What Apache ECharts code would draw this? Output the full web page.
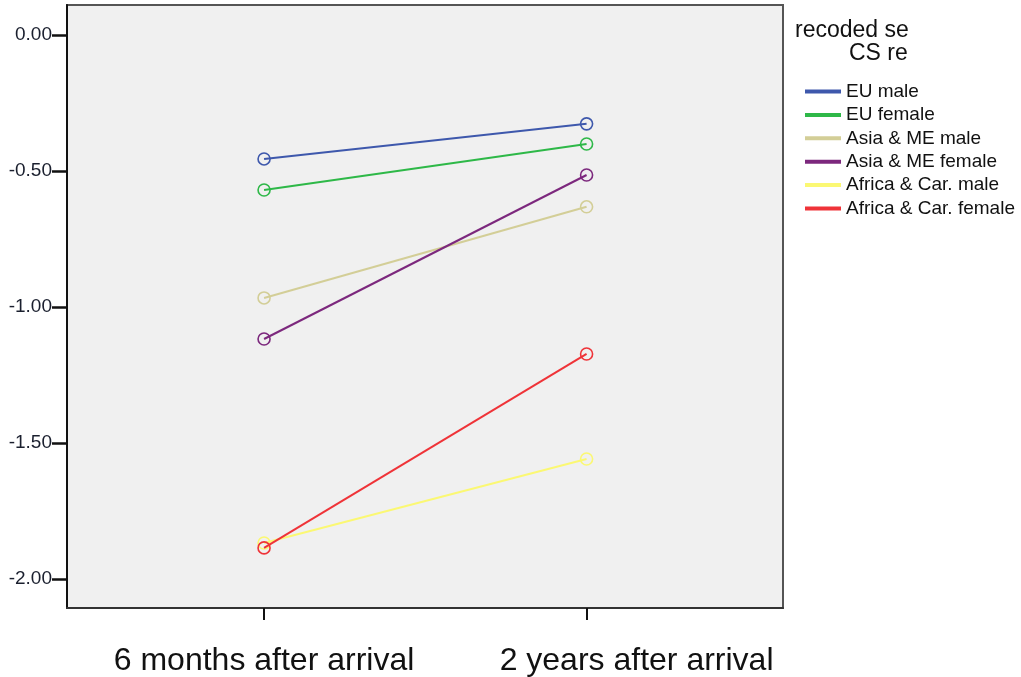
<!DOCTYPE html>
<html><head><meta charset="utf-8">
<script src="https://cdn.jsdelivr.net/npm/echarts@6/dist/echarts.min.js"></script>
<style>html,body{margin:0;padding:0;background:#fff}#c{width:1021px;height:677px}</style>
</head><body><div id="c"></div>
<script>
const categories = ['6 months after arrival', '2 years after arrival'];
const seriesNames = ['EU male', 'EU female', 'Asia & ME male', 'Asia & ME female', 'Africa & Car. male', 'Africa & Car. female'];
const euMale = [-0.456, -0.327];
const euFemale = [-0.570, -0.401];
const asiaMale = [-0.967, -0.632];
const asiaFemale = [-1.118, -0.515];
const africaMale = [-1.868, -1.559];
const africaFemale = [-1.886, -1.173];
const yTicks = [0, -0.5, -1, -1.5, -2];
const legendTitle = ['recoded se', 'CS re'];
const colors = ['#3E58AC', '#2EB848', '#D3CE97', '#7C287D', '#FBF873', '#EF3338'];

const allValues = [euMale, euFemale, asiaMale, asiaFemale, africaMale, africaFemale];
const FONT = 'Liberation Sans, Arial, sans-serif';

const series = allValues.map((vals, i) => ({
  name: seriesNames[i],
  type: 'line',
  data: vals.map((v, j) => [j, v]),
  symbol: 'circle',
  symbolSize: 12,
  lineStyle: { color: colors[i], width: 2 },
  itemStyle: { color: 'rgba(0,0,0,0)', borderColor: colors[i], borderWidth: 1.6 },
  emphasis: { disabled: true },
  z: 2 + i
}));

const chart = echarts.init(document.getElementById('c'));
chart.setOption({
  animation: false,
  backgroundColor: '#fff',
  title: [
    { text: legendTitle[0], left: 790, top: 14, textStyle: { fontFamily: FONT, fontSize: 23, fontWeight: 'normal', color: '#111' } },
    { text: legendTitle[1], left: 844, top: 37, textStyle: { fontFamily: FONT, fontSize: 23, fontWeight: 'normal', color: '#111' } }
  ],
  legend: {
    orient: 'vertical',
    left: 800,
    top: 77,
    icon: 'rect',
    itemWidth: 36,
    itemHeight: 4,
    itemGap: 4.4,
    selectedMode: false,
    data: seriesNames.map((n, i) => ({ name: n, itemStyle: { color: colors[i], borderWidth: 0 } })),
    textStyle: { fontFamily: FONT, fontSize: 19, color: '#111', lineHeight: 17 }
  },
  grid: {
    left: 67, top: 5, right: 238, bottom: 69,
    show: true, backgroundColor: '#f0f0f0', borderColor: '#555', borderWidth: 2
  },
  xAxis: {
    type: 'value',
    min: -0.611, max: 1.609,
    splitLine: { show: false },
    axisLine: { show: true, onZero: false, lineStyle: { color: '#333', width: 2 } },
    axisTick: { show: true, customValues: [0, 1], length: 12, lineStyle: { color: '#111', width: 2 } },
    axisLabel: {
      customValues: [0, 1.155],
      formatter: v => v < 0.5 ? categories[0] : categories[1],
      fontFamily: FONT, fontSize: 32, color: '#111', margin: 37
    }
  },
  yAxis: {
    type: 'value',
    min: -2.107, max: 0.110,
    splitLine: { show: false },
    axisLine: { show: true, onZero: false, lineStyle: { color: '#111', width: 2 } },
    axisTick: { show: true, customValues: yTicks, length: 15, lineStyle: { color: '#111', width: 2.5 } },
    axisLabel: {
      customValues: yTicks,
      formatter: v => v.toFixed(2),
      fontFamily: FONT, fontSize: 19, color: '#1a1f2e', margin: 15
    }
  },
  series: series
});
</script></body></html>
